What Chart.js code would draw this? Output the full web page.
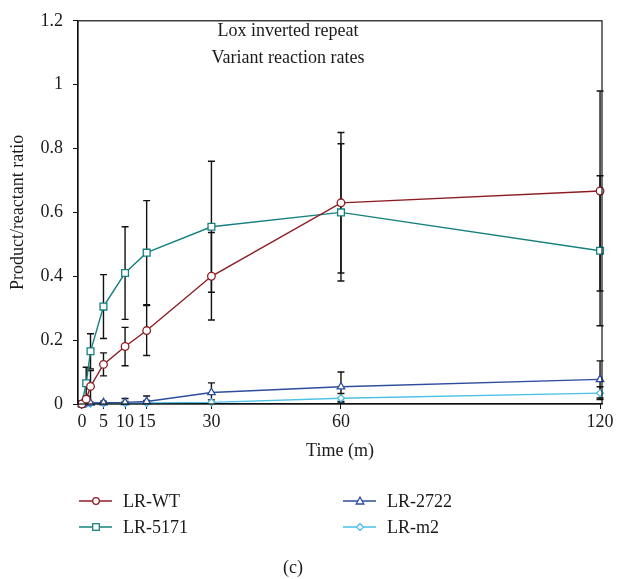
<!DOCTYPE html>
<html>
<head>
<meta charset="utf-8">
<script src="https://cdn.jsdelivr.net/npm/chart.js@4.4.1/dist/chart.umd.min.js"></script>
<style>
  html, body { margin: 0; padding: 0; background: #fff; }
  #wrap { position: relative; width: 617px; height: 579px; font-family: "Liberation Serif", "DejaVu Serif", serif; color: #1a1a1a; }
  #c { position: absolute; left: 0; top: 0; }
  .t { position: absolute; font-size: 18px; white-space: nowrap; line-height: 20px; }
  .ctr { transform: translate(-50%, -50%); }
  .lg { position: absolute; display: flex; align-items: center; font-size: 18px; line-height: 20px; transform: translateY(-50%); }
  .lg svg { margin-right: 11px; }
</style>
</head>
<body>
<div id="wrap">
  <canvas id="c" width="617" height="579"></canvas>
  <div class="t ctr" style="left:288px; top:30px;">Lox inverted repeat</div>
  <div class="t ctr" style="left:288px; top:57px;">Variant reaction rates</div>
  <div id="legend"></div>
  <div class="t ctr" style="left:293px; top:567px;">(c)</div>
</div>
<script>
// ---- data ----
const times = [0, 1, 2, 5, 10, 15, 30, 60, 120];
const xTickValues = [0, 5, 10, 15, 30, 60, 120];
const seriesNames = ["LR-WT", "LR-5171", "LR-2722", "LR-m2"];
const wtValues    = [0, 0.015, 0.055, 0.124, 0.18, 0.23, 0.40, 0.63, 0.667];
const wtErrors    = [0, 0.01, 0.05, 0.036, 0.06, 0.078, 0.137, 0.22, 0.313];
const m5171Values = [0, 0.065, 0.165, 0.305, 0.41, 0.474, 0.555, 0.60, 0.48];
const m5171Errors = [0, 0.05, 0.055, 0.10, 0.145, 0.163, 0.205, 0.215, 0.235];
const m2722Values = [0, 0.002, 0.003, 0.004, 0.005, 0.008, 0.036, 0.054, 0.077];
const m2722Errors = [0, 0, 0, 0.005, 0.012, 0.017, 0.03, 0.046, 0.058];
const m2Values    = [0, 0.001, 0.001, 0.002, 0.002, 0.003, 0.005, 0.018, 0.034];
const m2Errors    = [0, 0, 0, 0.003, 0.006, 0.008, 0.008, 0.015, 0.02];

const colors = ["#8c1c22", "#16807f", "#2d4c9c", "#4cc0e6"];
const shapes = ["circle", "rect", "triangle", "rectRot"];
const radii  = [3.8, 4.8, 4.3, 3.5];
const valueSets = [wtValues, m5171Values, m2722Values, m2Values];
const errorSets = [wtErrors, m5171Errors, m2722Errors, m2Errors];

const FONT = "'Liberation Serif', 'DejaVu Serif', serif";

const datasets = seriesNames.map((name, i) => ({
  label: name,
  data: times.map((t, j) => ({ x: t, y: valueSets[i][j] })),
  errors: errorSets[i],
  borderColor: colors[i],
  backgroundColor: "#ffffff",
  pointBackgroundColor: "#ffffff",
  pointBorderColor: colors[i],
  pointStyle: shapes[i],
  pointRadius: radii[i],
  pointBorderWidth: 1.3,
  borderWidth: 1.4,
  tension: 0,
  clip: false,
  showLine: true
}));

const errorBarPlugin = {
  id: "errorBars",
  beforeDatasetsDraw(chart) {
    const ctx = chart.ctx;
    const xs = chart.scales.x, ys = chart.scales.y;
    ctx.save();
    ctx.strokeStyle = "#111";
    ctx.lineWidth = 1.4;
    chart.data.datasets.forEach(ds => {
      ds.data.forEach((p, j) => {
        const e = ds.errors[j];
        if (!e) return;
        const x = xs.getPixelForValue(p.x);
        const yTop = ys.getPixelForValue(p.y + e);
        const yBot = ys.getPixelForValue(Math.max(0, p.y - e));
        const cap = 3.5;
        ctx.beginPath();
        ctx.moveTo(x, yTop); ctx.lineTo(x, yBot);
        ctx.moveTo(x - cap, yTop); ctx.lineTo(x + cap, yTop);
        if (p.y - e > 0) { ctx.moveTo(x - cap, yBot); ctx.lineTo(x + cap, yBot); }
        ctx.stroke();
      });
    });
    ctx.restore();
  }
};

const framePlugin = {
  id: "frame",
  afterDraw(chart) {
    const a = chart.chartArea, ctx = chart.ctx;
    ctx.save();
    ctx.strokeStyle = "#111";
    ctx.lineWidth = 1.2;
    ctx.strokeRect(a.left, a.top, a.right - a.left, a.bottom - a.top);
    ctx.restore();
  }
};

new Chart(document.getElementById("c"), {
  type: "scatter",
  data: { datasets },
  plugins: [errorBarPlugin, framePlugin],
  options: {
    responsive: false,
    animation: false,
    layout: { padding: { left: 0, top: 14, right: 15, bottom: 115 } },
    plugins: { legend: { display: false }, tooltip: { enabled: false }, title: { display: false } },
    scales: {
      x: {
        type: "linear",
        min: -0.9,
        max: 120.45,
        afterBuildTicks: s => { s.ticks = xTickValues.map(v => ({ value: v })); },
        afterFit: s => { s.height = 60; },
        grid: { display: true, drawOnChartArea: false, drawTicks: true, tickLength: 5, color: "#111", tickColor: "#111" },
        border: { display: true, color: "#111", width: 1.2 },
        ticks: { color: "#1a1a1a", font: { family: FONT, size: 18 }, padding: 2, maxRotation: 0, autoSkip: false, callback: v => String(v) },
        title: { display: true, text: "Time (m)", color: "#1a1a1a", font: { family: FONT, size: 18 }, padding: { top: 4, bottom: 2 } }
      },
      y: {
        type: "linear",
        min: 0,
        max: 1.2,
        afterFit: s => { s.width = 78; },
        grid: { display: true, drawOnChartArea: false, drawTicks: true, tickLength: 5, color: "#111", tickColor: "#111" },
        border: { display: true, color: "#111", width: 1.2 },
        ticks: { stepSize: 0.2, color: "#1a1a1a", font: { family: FONT, size: 18 }, padding: 10,
                 callback: v => String(Math.round(v * 10) / 10) },
        title: { display: true, text: "Product/reactant ratio", color: "#1a1a1a", font: { family: FONT, size: 18 }, padding: { top: 7, bottom: 0 } }
      }
    }
  }
});

// ---- HTML legend ----
const legendPos = [[79, 501], [79, 527], [343, 501], [343, 527]];
function markerSvg(i) {
  const c = colors[i];
  let m = "";
  const cx = 17, cy = 6;
  if (shapes[i] === "circle") m = `<circle cx="${cx}" cy="${cy}" r="3.3" fill="#fff" stroke="${c}" stroke-width="1.3"/>`;
  else if (shapes[i] === "rect") m = `<rect x="${cx-3.3}" y="${cy-3.3}" width="6.6" height="6.6" fill="#fff" stroke="${c}" stroke-width="1.3"/>`;
  else if (shapes[i] === "triangle") m = `<polygon points="${cx},${cy-4} ${cx+3.8},${cy+3} ${cx-3.8},${cy+3}" fill="#fff" stroke="${c}" stroke-width="1.3"/>`;
  else m = `<polygon points="${cx},${cy-3.5} ${cx+3.5},${cy} ${cx},${cy+3.5} ${cx-3.5},${cy}" fill="#fff" stroke="${c}" stroke-width="1.3"/>`;
  return `<svg width="33" height="12" viewBox="0 0 33 12"><line x1="0" y1="${cy}" x2="33" y2="${cy}" stroke="${c}" stroke-width="1.6"/>${m}</svg>`;
}
const lg = document.getElementById("legend");
seriesNames.forEach((name, i) => {
  const d = document.createElement("div");
  d.className = "lg";
  d.style.left = legendPos[i][0] + "px";
  d.style.top = legendPos[i][1] + "px";
  d.innerHTML = markerSvg(i) + "<span>" + name + "</span>";
  lg.appendChild(d);
});
</script>
</body>
</html>
